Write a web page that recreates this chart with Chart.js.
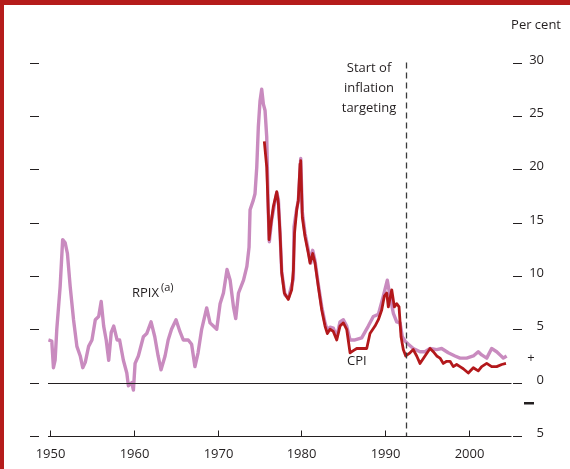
<!DOCTYPE html>
<html>
<head>
<meta charset="utf-8">
<script src="https://cdn.jsdelivr.net/npm/chart.js@4/dist/chart.umd.min.js"></script>
<style>
  html, body { margin: 0; padding: 0; background: #fff; }
  #wrap { position: relative; width: 570px; height: 469px; }
</style>
</head>
<body>
<div id="wrap"><canvas id="chart" width="570" height="469"></canvas></div>
<script>
// RPIX, annual % change
const rpixYears = [1949.8, 1950.2, 1950.4, 1950.6, 1950.8, 1951.2, 1951.5, 1951.8, 1952.07, 1952.4, 1952.8, 1953.2, 1953.6, 1953.9, 1954.2, 1954.6, 1955.0, 1955.4, 1955.8, 1956.1, 1956.4, 1956.7, 1957.0, 1957.3, 1957.6, 1958.0, 1958.3, 1958.75, 1959.16, 1959.35, 1959.75, 1959.95, 1960.15, 1960.54, 1961.14, 1961.54, 1962.06, 1962.5, 1962.9, 1963.25, 1963.73, 1964.1, 1964.5, 1965.04, 1965.5, 1965.9, 1966.5, 1966.9, 1967.3, 1967.67, 1968.1, 1968.7, 1969.1, 1969.5, 1969.9, 1970.3, 1970.7, 1971.13, 1971.5, 1971.9, 1972.17, 1972.5, 1973.1, 1973.5, 1973.76, 1973.88, 1974.27, 1974.47, 1974.68, 1974.87, 1975.07, 1975.27, 1975.47, 1975.67, 1975.87, 1976.06, 1976.18, 1976.47, 1976.86, 1977.07, 1977.26, 1977.46, 1977.66, 1978.06, 1978.45, 1978.74, 1979.05, 1979.13, 1979.45, 1979.64, 1979.93, 1980.12, 1980.44, 1980.84, 1981.12, 1981.36, 1981.64, 1982.03, 1982.44, 1982.83, 1983.11, 1983.43, 1983.82, 1984.23, 1984.62, 1985.02, 1985.42, 1985.82, 1986.41, 1987.21, 1988.0, 1988.6, 1989.2, 1989.79, 1990.27, 1990.59, 1990.99, 1991.39, 1991.79, 1992.06, 1992.38, 1992.78, 1993.37, 1994.17, 1994.77, 1995.37, 1996.17, 1996.76, 1997.55, 1998.35, 1998.95, 1999.75, 2000.54, 2001.13, 2001.54, 2002.14, 2002.73, 2003.33, 2003.72, 2004.12, 2004.52];
const rpixValues = [4.0, 3.9, 1.4, 2.1, 5.0, 9.0, 13.4, 13.1, 12.1, 9.0, 5.9, 3.4, 2.5, 1.4, 1.9, 3.4, 4.0, 5.9, 6.2, 7.6, 5.3, 4.0, 2.1, 4.7, 5.3, 4.0, 4.0, 2.1, 0.9, -0.3, 0.0, -0.7, 1.8, 2.5, 4.3, 4.6, 5.7, 4.3, 2.5, 1.2, 2.5, 4.0, 5.0, 5.9, 4.8, 4.0, 4.0, 3.6, 1.5, 2.8, 5.0, 7.0, 5.6, 5.3, 5.0, 7.4, 8.4, 10.6, 9.6, 7.1, 6.0, 8.4, 9.6, 10.9, 12.7, 16.2, 17.1, 17.7, 20.2, 24.0, 26.4, 27.5, 26.1, 25.5, 23.0, 15.9, 13.2, 15.3, 17.0, 17.8, 17.2, 14.0, 10.4, 8.2, 7.9, 8.8, 9.7, 14.6, 16.3, 17.0, 21.0, 16.0, 14.0, 12.4, 11.2, 12.4, 11.4, 9.2, 7.1, 5.6, 4.9, 5.2, 5.1, 4.3, 5.7, 5.9, 5.3, 4.0, 4.0, 4.2, 5.3, 6.2, 6.4, 8.1, 9.6, 8.1, 6.5, 5.7, 5.6, 4.3, 3.9, 3.6, 3.2, 2.9, 2.9, 3.2, 3.1, 3.2, 2.8, 2.5, 2.3, 2.3, 2.5, 2.9, 2.6, 2.3, 3.2, 2.9, 2.6, 2.3, 2.5];

// CPI, annual % change
const cpiYears = [1975.58, 1975.87, 1976.06, 1976.15, 1976.38, 1976.66, 1977.07, 1977.26, 1977.46, 1977.66, 1977.97, 1978.45, 1978.85, 1979.05, 1979.19, 1979.45, 1979.64, 1979.85, 1979.93, 1980.12, 1980.44, 1980.84, 1981.04, 1981.36, 1981.64, 1982.03, 1982.44, 1982.83, 1983.11, 1983.43, 1983.82, 1984.23, 1984.62, 1985.02, 1985.42, 1985.82, 1986.21, 1986.62, 1987.21, 1987.81, 1988.2, 1988.8, 1989.2, 1989.6, 1989.91, 1990.2, 1990.39, 1990.8, 1991.11, 1991.39, 1991.67, 1991.91, 1992.18, 1992.47, 1992.98, 1993.37, 1993.78, 1994.17, 1994.77, 1995.37, 1995.76, 1996.17, 1996.56, 1996.96, 1997.36, 1997.76, 1998.15, 1998.55, 1998.95, 1999.34, 1999.94, 2000.54, 2001.13, 2001.54, 2002.14, 2002.73, 2003.33, 2003.93, 2004.44];
const cpiValues = [22.6, 20.2, 15.9, 13.4, 14.9, 16.5, 17.9, 16.8, 14.0, 10.3, 8.4, 7.8, 8.7, 10.5, 14.0, 16.2, 17.1, 20.5, 20.8, 15.5, 13.7, 12.1, 11.2, 12.1, 11.2, 9.0, 6.8, 5.3, 4.6, 5.0, 4.8, 4.0, 5.3, 5.6, 5.0, 2.8, 3.0, 3.2, 3.2, 3.2, 4.6, 5.3, 5.9, 6.8, 8.1, 8.4, 7.1, 8.7, 7.1, 7.4, 7.1, 4.3, 3.1, 2.5, 2.8, 3.1, 2.5, 1.8, 2.5, 3.2, 2.9, 2.5, 2.3, 1.8, 2.0, 2.0, 1.5, 1.7, 1.5, 1.3, 0.9, 1.4, 1.1, 1.5, 1.8, 1.5, 1.5, 1.7, 1.8];

const xTicks = [1950, 1960, 1970, 1980, 1990, 2000];
const yTicks = [-5, 0, 5, 10, 15, 20, 25, 30];
const yTickLabels = ['5', '0', '5', '10', '15', '20', '25', '30'];
const targetingStart = 1992.5;

const FONT = "'Open Sans', 'Noto Sans', sans-serif";
const INK = '#231f20';

const decor = {
  id: 'decor',
  afterDatasetsDraw(chart) {
    const { ctx, chartArea: a, scales: { x, y } } = chart;
    ctx.save();

    // zero line and bottom axis
    ctx.strokeStyle = INK;
    ctx.lineWidth = 1;
    [0, -5].forEach(v => {
      const py = Math.round(y.getPixelForValue(v)) + 0.5;
      ctx.beginPath();
      ctx.moveTo(a.left, py);
      ctx.lineTo(a.right, py);
      ctx.stroke();
    });

    // x ticks, pointing up from the axis
    const by = Math.round(y.getPixelForValue(-5)) + 0.5;
    ctx.font = '13px ' + FONT;
    ctx.fillStyle = INK;
    ctx.textAlign = 'center';
    ctx.textBaseline = 'middle';
    xTicks.forEach(t => {
      const px = Math.round(x.getPixelForValue(t)) + 0.5;
      ctx.beginPath();
      ctx.moveTo(px, by);
      ctx.lineTo(px, by - 6);
      ctx.stroke();
      ctx.fillText(String(t), px, by + 18);
    });

    // y ticks, both sides
    ctx.lineWidth = 1.2;
    ctx.textAlign = 'right';
    yTicks.forEach((v, i) => {
      const py = Math.round(y.getPixelForValue(v)) + 0.5;
      ctx.beginPath();
      ctx.moveTo(30, py); ctx.lineTo(39, py);
      ctx.moveTo(513, py); ctx.lineTo(522, py);
      ctx.stroke();
      ctx.fillText(yTickLabels[i], 544, py - 3);
    });

    // plus / minus signs
    ctx.textAlign = 'center';
    ctx.fillText('+', 531, y.getPixelForValue(2.3));
    ctx.fillRect(524, Math.round(y.getPixelForValue(-1.9)) - 1, 10, 2.5);

    ctx.textAlign = 'right';
    ctx.fillText('Per cent', 561, 25);

    // start of inflation targeting
    const dx = Math.round(x.getPixelForValue(targetingStart)) + 0.5;
    ctx.strokeStyle = '#3a3a3a';
    ctx.lineWidth = 1.3;
    ctx.setLineDash([6, 4]);
    ctx.beginPath();
    ctx.moveTo(dx, y.getPixelForValue(30));
    ctx.lineTo(dx, y.getPixelForValue(-5));
    ctx.stroke();
    ctx.setLineDash([]);

    ctx.textAlign = 'center';
    ctx.fillText('Start of', 369, 68);
    ctx.fillText('inflation', 369, 88);
    ctx.fillText('targeting', 369, 108);

    // series labels
    ctx.textAlign = 'left';
    ctx.fillText('RPIX', 132, 293);
    ctx.font = '11px ' + FONT;
    ctx.fillText('(a)', 161, 288);
    ctx.font = '13px ' + FONT;
    ctx.fillText('CPI', 347, 361);

    // red frame, left and top
    ctx.fillStyle = '#b51c1b';
    ctx.fillRect(0, 0, 4, 469);
    ctx.fillRect(0, 0, 570, 5);

    ctx.restore();
  }
};

new Chart(document.getElementById('chart').getContext('2d'), {
  type: 'line',
  data: {
    datasets: [
      {
        label: 'CPI',
        data: cpiYears.map((t, i) => ({ x: t, y: cpiValues[i] })),
        borderColor: '#b3181b',
        borderWidth: 2.8,
        pointRadius: 0,
        tension: 0,
        borderJoinStyle: 'round'
      },
      {
        label: 'RPIX',
        data: rpixYears.map((t, i) => ({ x: t, y: rpixValues[i] })),
        borderColor: '#c98bbf',
        borderWidth: 3.4,
        pointRadius: 0,
        tension: 0,
        borderJoinStyle: 'round'
      }
    ]
  },
  options: {
    responsive: false,
    devicePixelRatio: 1,
    animation: false,
    layout: { padding: { left: 48, right: 58.5, top: 62.5, bottom: 33 } },
    plugins: { legend: { display: false }, tooltip: { enabled: false } },
    scales: {
      x: { type: 'linear', min: 1949.75, max: 2005.1, display: false },
      y: { min: -5, max: 30, display: false }
    }
  },
  plugins: [decor]
});
</script>
</body>
</html>
